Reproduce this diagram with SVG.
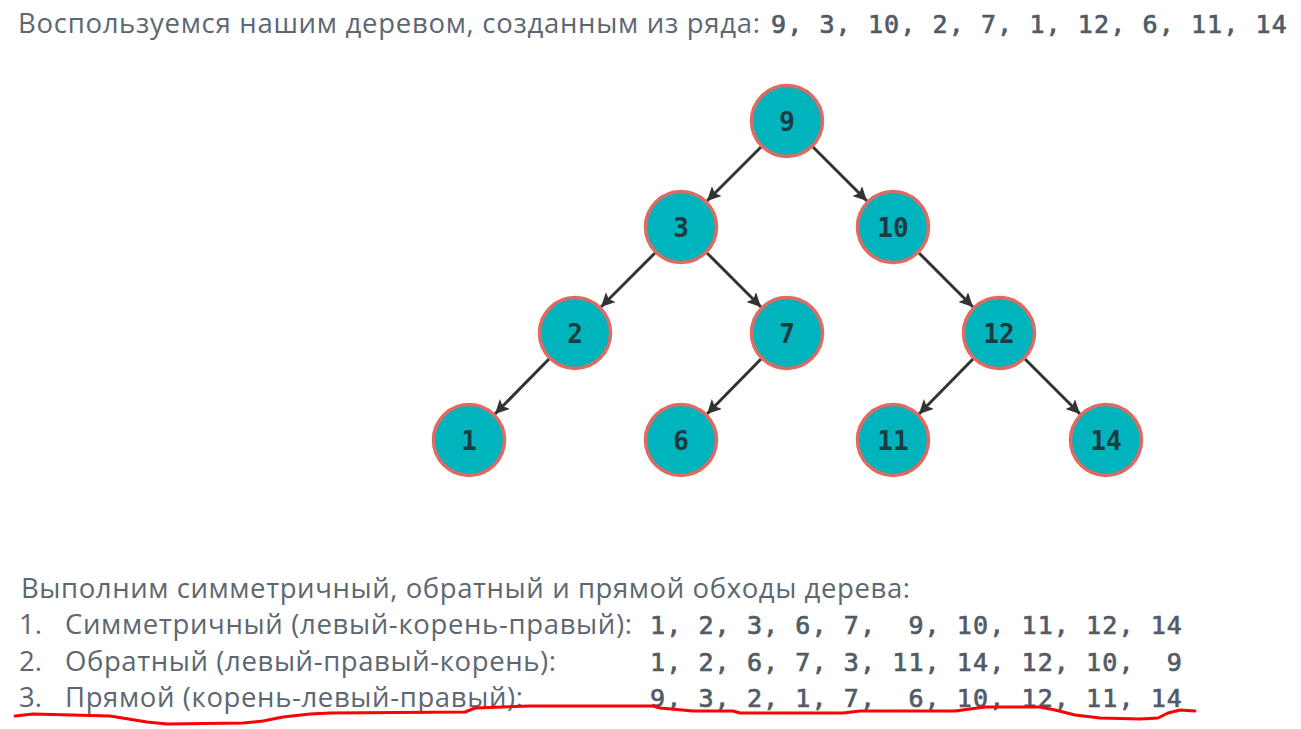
<svg xmlns="http://www.w3.org/2000/svg" width="1301" height="729" viewBox="0 0 1301 729">
<defs>
<style>
.t{font-family:"Open Sans","Noto Sans","DejaVu Sans",sans-serif;font-size:27.5px;fill:#5d6771}
.n{font-family:"DejaVu Sans Mono","Liberation Mono",monospace;font-size:25px;fill:#515b66;stroke:#515b66;stroke-width:0.7px;letter-spacing:1.1px;white-space:pre}
.node circle{fill:#00b4be;stroke:#e06a62;stroke-width:3.5}
.node text{font-family:"DejaVu Sans Mono","Liberation Mono",monospace;font-size:26px;font-weight:bold;fill:#1c3a40;text-anchor:middle;dominant-baseline:central}
.edge{stroke:#333333;stroke-width:3;fill:none;marker-end:url(#arr)}
</style>
<marker id="arr" markerUnits="userSpaceOnUse" markerWidth="16" markerHeight="14" refX="14" refY="7" orient="auto">
<path d="M0,0 L14,7 L0,14 L3,7 z" fill="#333333"/>
</marker>
</defs>
<rect width="1301" height="729" fill="#ffffff"/>
<g id="title">
<text class="t" x="18" y="33" textLength="742">Воспользуемся нашим деревом, созданным из ряда:</text>
<text class="n" x="771" y="33" xml:space="preserve">9, 3, 10, 2, 7, 1, 12, 6, 11, 14</text>
</g>
<g id="connectors">
<line class="edge" x1="761" y1="147" x2="707" y2="201"/>
<line class="edge" x1="813" y1="147" x2="867" y2="201"/>
<line class="edge" x1="655" y1="253" x2="601" y2="307"/>
<line class="edge" x1="707" y1="253" x2="761" y2="307"/>
<line class="edge" x1="919" y1="253" x2="973" y2="307"/>
<line class="edge" x1="549" y1="359" x2="495" y2="414"/>
<line class="edge" x1="761" y1="359" x2="707" y2="414"/>
<line class="edge" x1="973" y1="359" x2="919" y2="414"/>
<line class="edge" x1="1025" y1="359" x2="1080" y2="414"/>
</g>
<g id="node-9" class="node"><circle cx="787" cy="121" r="35.5"/><text x="787" y="122">9</text></g>
<g id="node-3" class="node"><circle cx="681" cy="227" r="35.5"/><text x="681" y="228">3</text></g>
<g id="node-10" class="node"><circle cx="893" cy="227" r="35.5"/><text x="893" y="228">10</text></g>
<g id="node-2" class="node"><circle cx="575" cy="333" r="35.5"/><text x="575" y="334">2</text></g>
<g id="node-7" class="node"><circle cx="787" cy="333" r="35.5"/><text x="787" y="334">7</text></g>
<g id="node-12" class="node"><circle cx="999" cy="333" r="35.5"/><text x="999" y="334">12</text></g>
<g id="node-1" class="node"><circle cx="469" cy="440" r="35.5"/><text x="469" y="441">1</text></g>
<g id="node-6" class="node"><circle cx="681" cy="440" r="35.5"/><text x="681" y="441">6</text></g>
<g id="node-11" class="node"><circle cx="893" cy="440" r="35.5"/><text x="893" y="441">11</text></g>
<g id="node-14" class="node"><circle cx="1106" cy="440" r="35.5"/><text x="1106" y="441">14</text></g>
<g id="traversals">
<text class="t" x="21" y="598" textLength="889">Выполним симметричный, обратный и прямой обходы дерева:</text>
<text class="t" x="19" y="634">1.</text>
<text class="t" x="65" y="634" textLength="567">Симметричный (левый-корень-правый):</text>
<text class="t" x="19" y="671">2.</text>
<text class="t" x="65" y="671" textLength="491">Обратный (левый-правый-корень):</text>
<text class="t" x="19" y="707">3.</text>
<text class="t" x="65" y="707" textLength="458">Прямой (корень-левый-правый):</text>
<text class="n" x="650" y="634" xml:space="preserve">1, 2, 3, 6, 7,  9, 10, 11, 12, 14</text>
<text class="n" x="650" y="671" xml:space="preserve">1, 2, 6, 7, 3, 11, 14, 12, 10,  9</text>
<text class="n" x="650" y="707" xml:space="preserve">9, 3, 2, 1, 7,  6, 10, 12, 11, 14</text>
</g>
<path id="underline" d="M15,716 L33,714 L110,716 L147,722 L167,724 L243,723 L263,721 L283,717 L310,714 L330,713 L465,712 L475,708 L530,706 L653,706 L660,708 L693,711 L733,711 L740,713 L843,713 L860,711 L920,711 L955,711 L985,707 L1040,707 L1055,710 L1075,715 L1100,718 L1140,719 L1158,718 L1168,713 L1180,710 L1195,711" fill="none" stroke="#ff0000" stroke-width="3" stroke-linejoin="round" stroke-linecap="round"/>
</svg>
